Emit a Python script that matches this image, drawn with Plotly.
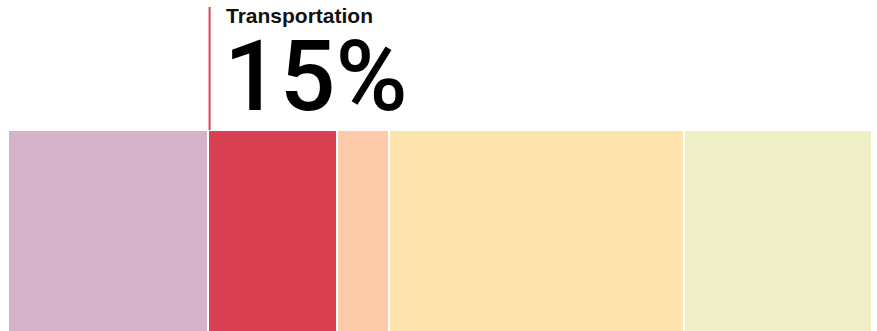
import plotly.graph_objects as go

# Share of emissions by sector, left to right
sectors = ["Industry", "Transportation", "Buildings", "Electricity and heat",
           "Agriculture, forestry and land use"]
shares = [23.1, 15.0, 6.0, 34.1, 21.8]
colors = ["#d5b4cb", "#d94152", "#fdcaaa", "#fde5ad", "#eeefc6"]

highlight = "Transportation"
highlight_label = f"{shares[sectors.index(highlight)]:.0f}%"

fig = go.Figure()
for name, val, col in zip(sectors, shares, colors):
    fig.add_trace(go.Bar(
        x=[val], y=[0], name=name, orientation="h",
        marker=dict(color=col, line=dict(color="white", width=2)),
        hoverinfo="name+x",
    ))

# left edge of the highlighted segment
start = sum(shares[:sectors.index(highlight)])

fig.add_shape(
    type="line", xref="x", yref="paper",
    xsizemode="pixel", xanchor=start, x0=2, x1=2,
    y0=1.0, y1=(331 - 7) / 201,
    line=dict(color="#d94152", width=2),
)

fig.add_annotation(
    xref="x", yref="paper", x=start, y=(331 - 2) / 201,
    xanchor="left", yanchor="top", xshift=16,
    text="<b>Transportation</b>", showarrow=False,
    font=dict(family="Liberation Sans", size=21, color="#111111"),
)
fig.add_annotation(
    xref="x", yref="paper", x=start, y=1.0,
    xanchor="left", yanchor="bottom", xshift=14, yshift=-6,
    text=highlight_label, showarrow=False,
    font=dict(family="Roboto", size=98, weight=500, color="#000000"),
)

fig.update_layout(
    width=877, height=331,
    margin=dict(l=8, r=5, t=130, b=0),
    barmode="stack", bargap=0,
    showlegend=False,
    paper_bgcolor="white", plot_bgcolor="white",
    xaxis=dict(range=[0, 100], visible=False, fixedrange=True),
    yaxis=dict(range=[-0.45, 0.5], visible=False, fixedrange=True),
)

fig.write_html("out.html")
